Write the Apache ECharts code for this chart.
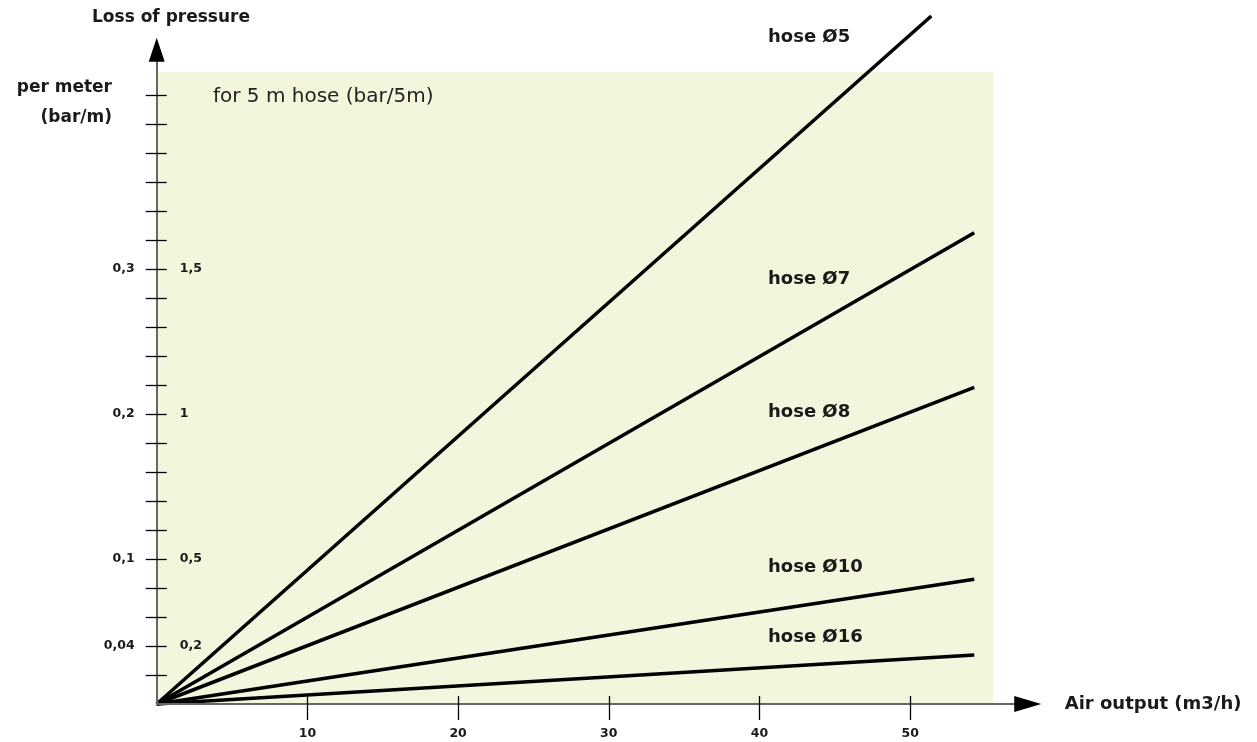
<!DOCTYPE html>
<html>
<head>
<meta charset="utf-8">
<script src="https://cdn.jsdelivr.net/npm/echarts@6/dist/echarts.min.js"></script>
<style>
  html, body { margin: 0; padding: 0; background: #fff; }
  #chart { width: 1257px; height: 742px; }
</style>
</head>
<body>
<div id="chart"></div>
<script>
// air output (m3/h) ticks
var xTicks = [10, 20, 30, 40, 50];
// minor ticks on the pressure axis, in bar/m
var yTicks = [0.02, 0.04, 0.06, 0.08, 0.10, 0.12, 0.14, 0.16, 0.18, 0.20, 0.22,
              0.24, 0.26, 0.28, 0.30, 0.32, 0.34, 0.36, 0.38, 0.40, 0.42];
var yLabelValues = [0.04, 0.1, 0.2, 0.3];
var yLabelsPerMeter = ['0,04', '0,1', '0,2', '0,3'];
var yLabelsFiveMeter = ['0,2', '0,5', '1', '1,5'];

// each hose is a straight line from the origin to its end point
var hoseNames = ['hose Ø5', 'hose Ø7', 'hose Ø8', 'hose Ø10', 'hose Ø16'];
var hoseEndFlow = [51.4, 54.25, 54.25, 54.25, 54.25];
var hoseEndLoss = [0.4745, 0.325, 0.2184, 0.086, 0.0338];

// shaded zone (flow, loss)
var zoneEnd = [55.5, 0.436];

var xMax = 57.8, yMax = 0.4512;
var bold = '"DejaVu Sans", sans-serif';

function pick(values, labels) {
	return function (v) {
		for (var i = 0; i < values.length; i++) {
			if (Math.abs(values[i] - v) < 1e-9) return labels[i];
		}
		return '';
	};
}

var chart = echarts.init(document.getElementById('chart'), null, {renderer: 'canvas'});

var series = [];
for (var i = 0; i < hoseNames.length; i++) {
	series.push({
		name: hoseNames[i],
		type: 'line',
		xAxisIndex: 0,
		yAxisIndex: 0,
		symbol: 'none',
		silent: true,
		clip: false,
		z: 2,
		lineStyle: {color: '#000', width: 3.5},
		data: [[0, 0], [hoseEndFlow[i], hoseEndLoss[i]]]
	});
}
series[0].markArea = {
	silent: true,
	itemStyle: {color: '#f3f5dc'},
	data: [[{coord: [0, 0]}, {coord: zoneEnd}]]
};

var labelFont = {fontFamily: bold, fontWeight: 'bold', fontSize: 12.5, color: '#1a1a1a'};

var hoseLabelY = [37, 279, 412, 567, 637];
var graphics = [
	{type: 'text', x: 171, y: 18, z: 10, style: {text: 'Loss of pressure', font: 'bold 17px ' + bold, fill: '#1a1a1a', align: 'center', verticalAlign: 'middle'}},
	{type: 'text', x: 112, y: 88, z: 10, style: {text: 'per meter', font: 'bold 17px ' + bold, fill: '#1a1a1a', align: 'right', verticalAlign: 'middle'}},
	{type: 'text', x: 112, y: 118, z: 10, style: {text: '(bar/m)', font: 'bold 17px ' + bold, fill: '#1a1a1a', align: 'right', verticalAlign: 'middle'}},
	{type: 'text', x: 213, y: 97, z: 10, style: {text: 'for 5 m hose (bar/5m)', font: '20px ' + bold, fill: '#222', align: 'left', verticalAlign: 'middle'}}
];
for (var j = 0; j < hoseNames.length; j++) {
	graphics.push({type: 'text', x: 768, y: hoseLabelY[j], z: 10,
		style: {text: hoseNames[j], font: 'bold 18px ' + bold, fill: '#1a1a1a', align: 'left', verticalAlign: 'middle'}});
}

var option = {
	animation: false,
	backgroundColor: '#fff',
	grid: {left: 156.7, right: 1257 - 156.7 - xMax * 15.07, top: 704 - yMax * 1450, bottom: 38, containLabel: false, outerBoundsMode: 'none'},
	xAxis: [{
		type: 'value', min: 0, max: xMax, z: 3,
		name: 'Air output (m3/h)', nameLocation: 'end', nameGap: 37,
		nameTextStyle: {fontFamily: bold, fontWeight: 'bold', fontSize: 18, color: '#1a1a1a', align: 'left', verticalAlign: 'middle', padding: [0, 0, 11, 0]},
		axisLine: {lineStyle: {color: '#666', width: 2}},
		axisTick: {inside: false, length: 16, lineStyle: {color: '#000', width: 1.3}, customValues: xTicks},
		axisLabel: Object.assign({margin: 23, customValues: xTicks}, labelFont),
		splitLine: {show: false}
	}, {
		type: 'value', min: 0, max: xMax, z: 3, position: 'bottom',
		axisLine: {symbol: ['none', 'triangle'], symbolSize: [16, 27], lineStyle: {color: '#000', width: 2, opacity: 0}},
		axisTick: {inside: true, length: 8, lineStyle: {color: '#000', width: 1.3}, customValues: xTicks},
		axisLabel: {show: false},
		splitLine: {show: false}
	}],
	yAxis: [{
		type: 'value', min: 0, max: yMax, z: 3, position: 'left',
		axisLine: {show: true, lineStyle: {color: '#666', width: 2}},
		axisTick: {show: true, inside: false, length: 11, lineStyle: {color: '#000', width: 1.3}, customValues: yTicks},
		axisLabel: Object.assign({margin: 22, padding: [0, 0, 10, 0], customValues: yLabelValues,
			formatter: pick(yLabelValues, yLabelsPerMeter)}, labelFont),
		splitLine: {show: false}
	}, {
		type: 'value', min: 0, max: yMax, z: 3, position: 'left', offset: 0,
		axisLine: {show: true, symbol: ['none', 'triangle'], symbolSize: [16, 24], lineStyle: {color: '#000', width: 2, opacity: 0}},
		axisTick: {show: true, inside: true, length: 10, lineStyle: {color: '#000', width: 1.3}, customValues: yTicks},
		axisLabel: Object.assign({inside: true, margin: 23, padding: [0, 0, 10, 0], customValues: yLabelValues,
			formatter: pick(yLabelValues, yLabelsFiveMeter)}, labelFont),
		splitLine: {show: false}
	}],
	graphic: graphics,
	series: series
};

chart.setOption(option);
</script>
</body>
</html>
